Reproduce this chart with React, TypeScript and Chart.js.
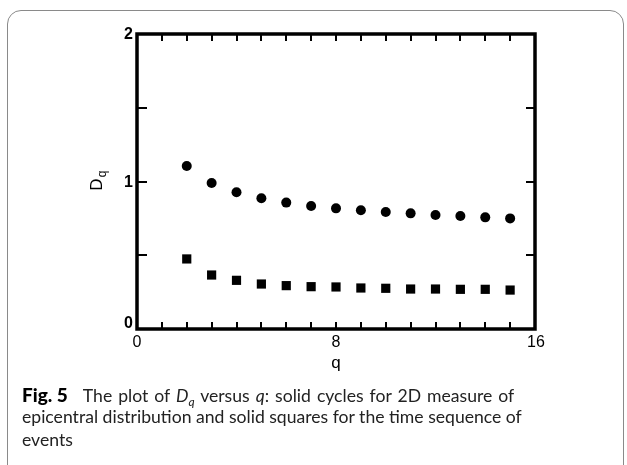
import React, { useEffect, useRef } from "react";
import { Chart, registerables } from "chart.js";

Chart.register(...registerables);

const qValues = [2, 3, 4, 5, 6, 7, 8, 9, 10, 11, 12, 13, 14, 15];
const epicentralDq = [1.105, 0.99, 0.927, 0.886, 0.857, 0.834, 0.818, 0.805, 0.793, 0.784, 0.773, 0.766, 0.757, 0.75];
const timeSequenceDq = [0.475, 0.366, 0.33, 0.305, 0.294, 0.287, 0.285, 0.278, 0.276, 0.271, 0.271, 0.269, 0.269, 0.264];
const xTickLabels = [0, 8, 16];
const yTickLabels = [0, 1, 2];

const AX_FONT = "'Liberation Sans', Arial, sans-serif";

const framePlugin = {
  id: "framePlugin",
  afterDraw(chart: any) {
    const { ctx, chartArea, scales } = chart;
    const xs = scales.x;
    const ys = scales.y;
    const { left, right, top, bottom } = chartArea;
    ctx.save();
    ctx.strokeStyle = "#000";
    ctx.fillStyle = "#000";
    ctx.lineCap = "butt";
    // minor ticks
    ctx.lineWidth = 2;
    ctx.beginPath();
    for (let v = 1; v < 16; v++) {
      const x = Math.round(xs.getPixelForValue(v));
      ctx.moveTo(x, bottom);
      ctx.lineTo(x, bottom - 7);
      ctx.moveTo(x, top);
      ctx.lineTo(x, top + 7);
    }
    for (let v = 0.5; v < 2; v += 0.5) {
      const y = Math.round(ys.getPixelForValue(v));
      ctx.moveTo(left, y);
      ctx.lineTo(left + 10, y);
      ctx.moveTo(right, y);
      ctx.lineTo(right - 9, y);
    }
    ctx.stroke();
    // frame
    ctx.lineWidth = 3.5;
    ctx.strokeRect(left, top, right - left, bottom - top);

    // y tick labels
    ctx.font = "bold 16px " + AX_FONT;
    ctx.textAlign = "right";
    ctx.textBaseline = "middle";
    yTickLabels.forEach((v) => {
      const y = ys.getPixelForValue(v) + (v === 0 ? -5 : 1);
      ctx.fillText(String(v), left - 4, y);
    });
    // x tick labels
    ctx.font = "16px " + AX_FONT;
    ctx.textAlign = "center";
    ctx.textBaseline = "top";
    xTickLabels.forEach((v) => {
      const x = xs.getPixelForValue(v) + (v === 16 ? 1 : 0);
      ctx.fillText(String(v), x, bottom + 6);
    });
    // x title
    ctx.font = "17px " + AX_FONT;
    ctx.textBaseline = "middle";
    ctx.fillText("q", (left + right) / 2, bottom + 34);

    // y title D_q
    ctx.translate(99, (top + bottom) / 2 - 1);
    ctx.rotate(-Math.PI / 2);
    ctx.textBaseline = "middle";
    ctx.textAlign = "left";
    ctx.font = "17px " + AX_FONT;
    const dw = ctx.measureText("D").width;
    const total = dw + 8;
    ctx.fillText("D", -total / 2, -2);
    ctx.font = "12px " + AX_FONT;
    ctx.fillText("q", -total / 2 + dw + 1, 4);
    ctx.restore();
  },
};

function ChartCanvas() {
  const ref = useRef<HTMLCanvasElement | null>(null);
  useEffect(() => {
    if (!ref.current) return;
    const chart = new Chart(ref.current, {
      type: "scatter",
      data: {
        datasets: [
          {
            label: "2D epicentral",
            data: qValues.map((q, i) => ({ x: q, y: epicentralDq[i] })),
            pointStyle: "circle",
            pointRadius: 5,
            backgroundColor: "#000",
            borderColor: "#000",
            borderWidth: 0,
          },
          {
            label: "time sequence",
            data: qValues.map((q, i) => ({ x: q, y: timeSequenceDq[i] })),
            pointStyle: "rect",
            pointRadius: 6.5,
            backgroundColor: "#000",
            borderColor: "#000",
            borderWidth: 0,
          },
        ],
      },
      options: {
        animation: false,
        responsive: false,
        devicePixelRatio: 1,
        layout: { padding: { left: 137, right: 92, top: 34, bottom: 136 } },
        plugins: { legend: { display: false }, tooltip: { enabled: false } },
        scales: {
          x: {
            type: "linear",
            min: 0,
            max: 16,
            afterFit: (s: any) => {
              s.height = 0;
            },
            grid: { display: false },
            border: { display: false },
            ticks: { display: false },
          },
          y: {
            type: "linear",
            min: 0,
            max: 2,
            afterFit: (s: any) => {
              s.width = 0;
            },
            grid: { display: false },
            border: { display: false },
            ticks: { display: false },
          },
        },
      },
      plugins: [framePlugin],
    } as any);
    return () => chart.destroy();
  }, []);
  return (
    <canvas
      ref={ref}
      width={627}
      height={465}
      style={{ position: "absolute", left: 0, top: 0, width: 627, height: 465 }}
    />
  );
}

export default function App() {
  const capFont = "Lato, 'Open Sans', sans-serif";
  const lineStyle = (top: number): React.CSSProperties => ({
    position: "absolute",
    left: 22,
    top,
    fontFamily: capFont,
    fontSize: 17.6,
    lineHeight: "22px",
    color: "#222",
    whiteSpace: "nowrap",
  });
  return (
    <div
      style={{
        position: "fixed",
        left: 0,
        top: 0,
        width: 627,
        height: 465,
        overflow: "hidden",
        background: "#fff",
      }}
    >
      <div
        style={{
          position: "absolute",
          left: 7,
          top: 10,
          width: 617,
          height: 480,
          border: "1.5px solid #8a8a8a",
          borderRadius: 14,
          boxSizing: "border-box",
        }}
      />
      <ChartCanvas />
      <div style={{ ...lineStyle(384), wordSpacing: 1.5 }}>
        <b style={{ fontWeight: 900, color: "#000", fontSize: 19, marginRight: 15, wordSpacing: 0 }}>Fig. 5</b>
        {"The plot of "}
        <i>D</i>
        <sub style={{ fontStyle: "italic", fontSize: 12, verticalAlign: "-4px", lineHeight: 0 }}>q</sub>
        {" versus "}
        <i>q</i>
        {": solid cycles for 2D measure of"}
      </div>
      <div style={lineStyle(406)}>epicentral distribution and solid squares for the time sequence of</div>
      <div style={lineStyle(429)}>events</div>
    </div>
  );
}
